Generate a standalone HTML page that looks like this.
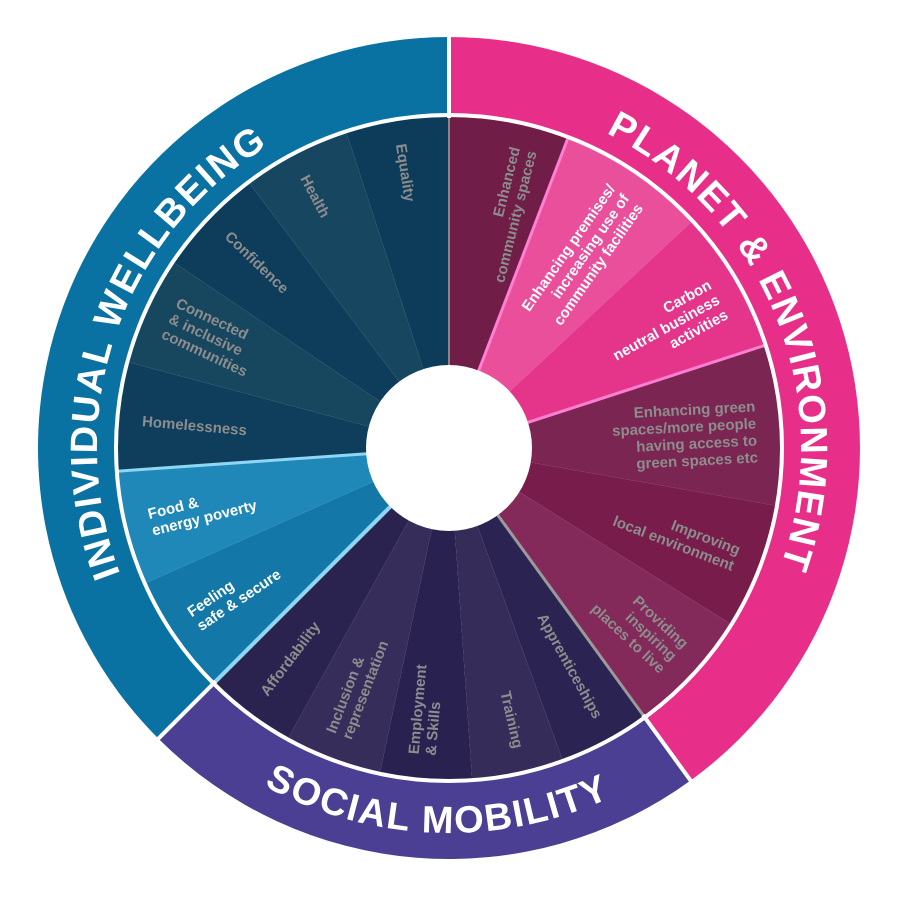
<!DOCTYPE html>
<html><head><meta charset="utf-8"><style>
html,body{margin:0;padding:0;background:#fff;width:900px;height:900px;overflow:hidden}
svg{display:block}
text{font-family:"Liberation Sans",sans-serif;font-weight:bold}
</style></head><body>
<svg id="s" width="900" height="900" viewBox="0 0 900 900" xmlns="http://www.w3.org/2000/svg">
<defs>
<path id="pIW" d="M 183.3 678.9 A 352 352 0 0 1 381.8 102.5"/>
<path id="pPE" d="M 498 99.4 A 352 352 0 0 1 726.4 664.7"/>
<path id="pSM" d="M 172.1 715.4 A 385 385 0 0 0 706.6 734.1"/>
</defs>
<g id="g"></g>
<text font-size="38" fill="#fff" font-weight="normal"><textPath href="#pIW" startOffset="50%" text-anchor="middle" textLength="491" lengthAdjust="spacing">INDIVIDUAL WELLBEING</textPath></text>
<text font-size="38" fill="#fff" font-weight="normal"><textPath href="#pPE" startOffset="50%" text-anchor="middle" textLength="510" lengthAdjust="spacing">PLANET &amp; ENVIRONMENT</textPath></text>
<text font-size="38" fill="#fff" font-weight="normal"><textPath href="#pSM" startOffset="50%" text-anchor="middle" textLength="359" lengthAdjust="spacing">SOCIAL MOBILITY</textPath></text>
</svg>
<script>
var cx=449,cy=448,NS="http://www.w3.org/2000/svg",g=document.getElementById('g');
function P(r,a){a=a*Math.PI/180;return [cx+r*Math.cos(a),cy+r*Math.sin(a)];}
function wedge(r0,r1,a0,a1,fill){var p0=P(r1,a0),p1=P(r1,a1),p2=P(r0,a1),p3=P(r0,a0),l=(a1-a0)>180?1:0;
var d="M"+p0+" A"+r1+" "+r1+" 0 "+l+" 1 "+p1+" L"+p2+" A"+r0+" "+r0+" 0 "+l+" 0 "+p3+"Z";
var e=document.createElementNS(NS,'path');e.setAttribute('d',d);e.setAttribute('fill',fill);g.appendChild(e);}
function line(r0,r1,a,col,w){var a0=P(r0,a),b=P(r1,a),e=document.createElementNS(NS,'line');
e.setAttribute('x1',a0[0]);e.setAttribute('y1',a0[1]);e.setAttribute('x2',b[0]);e.setAttribute('y2',b[1]);
e.setAttribute('stroke',col);e.setAttribute('stroke-width',w);g.appendChild(e);}
wedge(330,411,135,270,"#0a72a3");
wedge(330,411,-90,54,"#e72f89");
wedge(330,411,54,135,"#4b3f93");
var segs=[[-90,-69,"#701d48"],[-69,-43,"#ea4f9c"],[-43,-18,"#e5358b"],
[-18,10,"#7b2552"],[10,32,"#781c4b"],[32,54,"#832a5a"],
[54,70,"#2b2352"],[70,86,"#362c59"],[86,102,"#292250"],[102,119,"#372d5b"],[119,135,"#2a2350"],
[135,156,"#1378a8"],[156,176,"#1f88b8"],
[176,195,"#0e3e5c"],[195,214,"#17465f"],[214,233,"#0e3d5b"],[233,252,"#174660"],[252,270,"#0d3c5a"]];
segs.forEach(function(s){wedge(80,331,s[0],s[1],s[2]);});
line(82,331,135,"#8fd6f4",4);line(82,331,176,"#8fd6f4",3);
line(82,331,-69,"#ff7fd2",3);line(82,331,-18,"#ff7fd2",3);
line(82,331,54,"#9a9a9a",3);line(82,331,-90,"#888",2);
line(330,415,135,"#fff",4);line(330,415,54,"#fff",4);line(330,415,-90,"#fff",4);
var c=document.createElementNS(NS,'circle');c.setAttribute('cx',cx);c.setAttribute('cy',cy);c.setAttribute('r',333);
c.setAttribute('fill','none');c.setAttribute('stroke','#fff');c.setAttribute('stroke-width',4);g.appendChild(c);
c=document.createElementNS(NS,'circle');c.setAttribute('cx',cx);c.setAttribute('cy',cy);c.setAttribute('r',83);c.setAttribute('fill','#fff');g.appendChild(c);
var G="#8d8d8d",W="#fff";
var labs=[[-76,'R',G,["Enhanced","community spaces"]],
[-55,'R',W,["Enhancing premises/","increasing use of","community facilities"]],
[-29,'R',W,["Carbon","neutral business","activities"]],
[-3,'R',G,["Enhancing green","spaces/more people","having access to","green spaces etc"]],
[21,'R',G,["Improving","local environment"]],
[43,'R',G,["Providing","inspiring","places to live"]],
[61,'R',G,["Apprenticeships"]],[77,'R',G,["Training"]],
[95,'L',G,["Employment","& Skills"]],[111,'L',G,["Inclusion &","representation"]],[127,'L',G,["Affordability"]],
[146,'L',W,["Feeling","safe & secure"]],[166,'L',W,["Food &","energy poverty"]],
[185,'L',G,["Homelessness"]],[205,'L',G,["Connected","& inclusive","communities"]],
[224,'L',G,["Confidence"]],[242,'L',G,["Health"]],[261,'L',G,["Equality"]]];
labs.forEach(function(l){var t=document.createElementNS(NS,'text');
var rot=l[1]=='L'?180:0;
t.setAttribute('transform','translate('+cx+' '+cy+') rotate('+l[0]+') translate(308 0) rotate('+rot+')');
t.setAttribute('font-size','15');t.setAttribute('fill',l[2]);
t.setAttribute('text-anchor',l[1]=='L'?'start':'end');
var n=l[3].length,lh=17;
l[3].forEach(function(s,i){var ts=document.createElementNS(NS,'tspan');ts.setAttribute('x',0);
ts.setAttribute('y',(i-(n-1)/2)*lh+5);ts.textContent=s;t.appendChild(ts);});
g.appendChild(t);});
</script>
</body></html>
